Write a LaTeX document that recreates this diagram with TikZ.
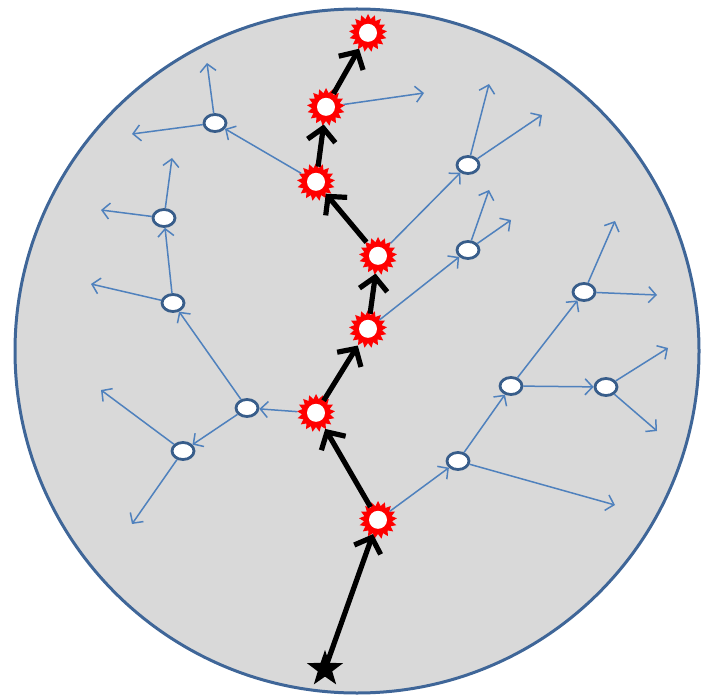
\documentclass[tikz,border=0pt]{standalone}
\usetikzlibrary{shapes.geometric,arrows.meta}
\definecolor{bgray}{HTML}{D9D9D9}
\definecolor{rimblue}{HTML}{3F6698}
\definecolor{arrblue}{HTML}{4F81BD}
\definecolor{nodeblue}{HTML}{385D8A}
\begin{document}
\begin{tikzpicture}[x=1pt,y=-1pt,
 burst/.style={star, star points=17, star point ratio=1.35, minimum size=38pt, inner sep=0pt, fill=red,
   path picture={\fill[white] (path picture bounding box.center) circle (9pt);}},
 wnode/.style={ellipse, draw=nodeblue, line width=2.8pt, fill=white, minimum width=22pt, minimum height=17pt, inner sep=0pt},
 barrow/.style={line width=5.2pt, -{Straight Barb[length=13pt,width=28pt]}},
 larrow/.style={draw=arrblue, line width=1.5pt, -{Straight Barb[length=7.5pt,width=16pt]}},
 startip/.style={star, star points=5, star point ratio=2.5, minimum size=38pt, inner sep=0pt, fill=black}]
\useasboundingbox (0,0) rectangle (703,700);
\draw[rimblue, line width=3pt, fill=bgray] (357,351) circle (342pt);

% red burst nodes (main path)
\node[startip] (st) at (325,669) {};
\node[burst] (r1) at (378,520) {};
\node[burst] (r2) at (316,413) {};
\node[burst] (r3) at (368,329) {};
\node[burst] (r4) at (378,256) {};
\node[burst] (r5) at (316,182) {};
\node[burst] (r6) at (326,107) {};
\node[burst] (r7) at (368,33) {};

% white side nodes
\node[wnode] (a) at (215,123) {};
\node[wnode] (b) at (164,218) {};
\node[wnode] (c) at (173,303) {};
\node[wnode] (d) at (247,408) {};
\node[wnode] (e) at (183,451) {};
\node[wnode] (f) at (468,165) {};
\node[wnode] (g) at (468,250) {};
\node[wnode] (h) at (458,461) {};
\node[wnode] (i) at (511,386) {};
\node[wnode] (j) at (584,292) {};
\node[wnode] (k) at (606,387) {};

% free ends
\coordinate (r6x) at (424,93);
\coordinate (a1) at (132,134);
\coordinate (a2) at (207,63);
\coordinate (b1) at (101,210);
\coordinate (b2) at (172,158);
\coordinate (c1) at (91,284);
\coordinate (e1) at (101,390);
\coordinate (e2) at (132,524);
\coordinate (f1) at (489,84);
\coordinate (f2) at (542,115);
\coordinate (g1) at (489,190);
\coordinate (g2) at (511,220);
\coordinate (h1) at (615,505);
\coordinate (j1) at (615,221);
\coordinate (j2) at (657,295);
\coordinate (k1) at (668,348);
\coordinate (k2) at (657,431);

% blue arrows
\draw[larrow] (r6) -- (r6x);
\draw[larrow] (r5) -- (a);
\draw[larrow] (a) -- (a1);
\draw[larrow] (a) -- (a2);
\draw[larrow] (r4) -- (f);
\draw[larrow] (f) -- (f1);
\draw[larrow] (f) -- (f2);
\draw[larrow] (r3) -- (g);
\draw[larrow] (g) -- (g1);
\draw[larrow] (g) -- (g2);
\draw[larrow] (r2) -- (d);
\draw[larrow] (d) -- (c);
\draw[larrow] (c) -- (b);
\draw[larrow] (c) -- (c1);
\draw[larrow] (b) -- (b1);
\draw[larrow] (b) -- (b2);
\draw[larrow] (d) -- (e);
\draw[larrow] (e) -- (e1);
\draw[larrow] (e) -- (e2);
\draw[larrow] (r1) -- (h);
\draw[larrow] (h) -- (i);
\draw[larrow] (h) -- (h1);
\draw[larrow] (i) -- (j);
\draw[larrow] (i) -- (k);
\draw[larrow] (j) -- (j1);
\draw[larrow] (j) -- (j2);
\draw[larrow] (k) -- (k1);
\draw[larrow] (k) -- (k2);

% black main path arrows
\draw[barrow] (st.center) -- (r1);
\draw[barrow] (r1) -- (r2);
\draw[barrow] (r2) -- (r3);
\draw[barrow] (r3) -- (r4);
\draw[barrow] (r4) -- (r5);
\draw[barrow] (r5) -- (r6);
\draw[barrow] (r6) -- (r7);
\end{tikzpicture}
\end{document}
